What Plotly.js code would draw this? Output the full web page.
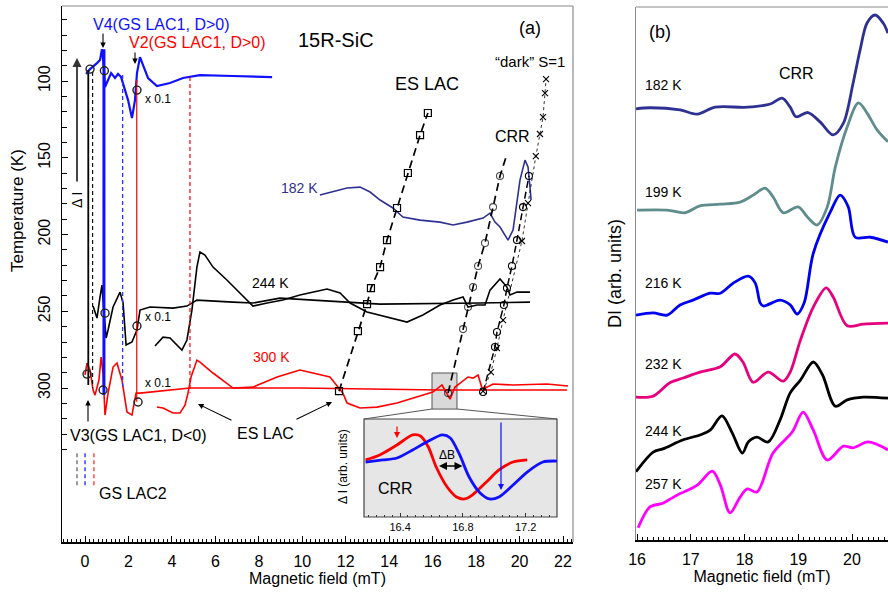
<!DOCTYPE html>
<html>
<head>
<meta charset="utf-8">
<script src="https://cdn.plot.ly/plotly-3.0.1.min.js"></script>
<style>
  html, body { margin: 0; padding: 0; background: #fff; }
  #chart { width: 888px; height: 592px; }
</style>
</head>
<body>
<div id="chart"></div>
<script>
// ---------- Panel (a): spectra plotted at their temperature offset ----------
// 100 K spectrum (blue, scaled x0.1)
const blue100Field = [0.05,0.23,0.55,0.69,0.78,0.87,0.92,1.01,1.20,1.38,1.52,1.66,1.79,1.98,2.16,2.30,2.39,2.53,2.67,2.90,3.31,3.91,4.51,5.29,6.81,8.61];
const blue100Sig   = [95.4,92.2,88.3,86.3,79.2,90.9,103.9,101.3,94.8,98.0,95.4,97.4,103.9,112.4,124.1,112.4,94.8,84.4,89.6,98.0,103.3,101.3,98.0,96.1,96.7,97.4];

// 182 K spectrum (navy)
const navy182Field = [10.81,11.41,12.06,12.66,13.12,13.58,14.17,14.63,15.42,16.34,16.94,17.58,18.32,18.64,18.87,19.10,19.47,19.70,19.88,20.02,20.25,20.39,20.48,20.53];
const navy182Sig   = [174.3,172.3,169.7,169.1,172.3,177.5,182.7,188.6,190.6,191.9,193.8,191.9,189.3,186.0,191.9,195.1,203.6,197.1,177.5,164.5,151.5,156.0,169.1,177.5];

// 244 K spectrum, low-field part scaled x0.1 (black)
const k244LowField = [0.37,0.55,0.69,0.78,0.83,0.97,1.06,1.29,1.61,1.75,1.89,2.16,2.39,2.53,2.99,4.05,4.69,5.15,6.81,7.73,8.97,13.58,18.18,20.48];
const k244LowSig   = [246.6,254.4,240.7,232.9,242.7,267.4,262.2,247.2,237.5,244.6,272.0,270.0,262.2,249.2,247.2,247.9,246.6,242.7,244.0,244.6,241.4,245.3,244.6,244.0];
// 244 K spectrum, full scale (black)
const k244Field = [3.22,3.59,3.91,4.46,4.69,4.92,5.15,5.29,5.52,5.89,6.53,7.13,7.73,8.38,9.11,9.89,11.14,11.74,12.20,12.98,13.90,14.82,15.55,16.34,16.94,17.40,17.63,18.04,18.41,18.64,19.10,19.42,19.56,19.88,20.48];
const k244Sig   = [272.6,266.8,267.4,275.3,268.7,249.2,221.2,211.4,213.4,221.2,229.6,238.1,246.6,244.6,242.7,239.4,235.5,238.1,244.6,250.5,253.8,257.0,252.4,245.9,242.7,240.7,247.2,245.9,245.9,236.2,229.0,234.2,239.4,237.5,237.5];

// 300 K spectrum, low-field part scaled x0.1 (red)
const r300LowField = [0.00,0.09,0.23,0.37,0.46,0.64,0.74,0.83,0.92,1.06,1.29,1.47,1.70,1.93,2.16,2.35,2.53,4.05,4.83,5.61,9.89,16.34,22.18];
const r300LowSig   = [291.5,283.7,288.3,301.3,304.6,294.8,279.8,290.2,317.6,303.3,286.3,283.7,294.8,315.6,317.6,303.3,303.3,301.3,300.0,300.0,300.0,301.3,301.3];
// 300 K spectrum, full scale (red)
const r300Field = [3.31,3.59,4.05,4.37,4.60,4.74,4.88,5.15,5.29,5.89,6.81,7.73,8.84,9.89,10.49,11.27,11.87,12.06,12.66,13.44,14.36,15.09,16.01,16.43,16.66,16.80,17.03,17.26,17.40,17.63,17.86,18.09,18.27,18.50,18.78,19.70,21.26,22.23];
const r300Sig   = [312.4,313.0,316.3,316.3,311.1,303.3,292.8,281.8,283.1,290.2,300.0,299.4,292.8,288.3,290.2,292.8,303.3,309.8,313.0,312.4,309.8,306.5,302.6,298.0,303.3,307.2,299.4,296.8,294.8,292.8,293.5,291.5,300.0,299.4,297.4,298.0,297.4,298.7];

// Level anti-crossing positions (vertical markers): field, upper and lower temperature ends
const lacField  = [0.15, 0.35, 0.87, 1.73, 2.38, 4.83];
const lacTop    = [92.8, 94.1, 79.2, 96.1, 99.3, 97.4];
const lacBottom = [298.0, 300.0, 304.6, 301.3, 309.0, 303.0];

// Open circles on the GS LAC lines
const gsCircField = [0.23, 0.89, 2.39, 0.92, 2.39, 0.09, 0.83, 2.44];
const gsCircTemp  = [92.2, 93.3, 105.9, 251.2, 259.6, 290.9, 301.3, 309.1];

// GS LAC2 positions
const gsLac2Field = [-0.37, 0.0, 0.41];
const gsLac2Range = [342.4, 365.2];

// ES LAC temperature dependence (squares)
const esLacField = [11.69, 12.56, 12.98, 13.16, 13.58, 13.90, 14.36, 14.86, 15.42, 15.78];
const esLacTemp  = [302.0, 262.9, 245.3, 234.9, 221.2, 203.6, 182.7, 159.9, 135.2, 120.8];

// CRR temperature dependence (circles, two branches)
const crrAField = [16.71, 17.40, 17.63, 17.86, 18.09, 18.41, 18.78, 19.10, 19.42];
const crrATemp  = [303.3, 261.6, 247.2, 234.2, 220.5, 205.5, 182.1, 161.9, 147.6];
const crrAMark  = [true, true, true, true, true, true, true, true, false];
const crrBField = [18.32, 18.87, 18.96, 19.28, 19.42, 19.65, 19.88, 20.16, 20.43];
const crrBTemp  = [302.6, 273.3, 263.5, 245.9, 234.9, 220.5, 203.6, 182.1, 161.9];

// "dark" S=1 centre temperature dependence (crosses)
const darkField = [18.32, 18.68, 18.96, 19.24, 20.11, 20.39, 20.75, 20.94, 21.08, 21.17, 21.22];
const darkTemp  = [302.0, 289.6, 274.0, 255.7, 204.2, 179.5, 148.9, 134.5, 123.5, 107.8, 98.7];

// Zoomed region shown in the inset
const zoomBoxField = [15.97, 17.12];
const zoomBoxTemp  = [290.2, 313.7];

// ---------- Inset: CRR line shift ----------
const insRedField  = [16.18,16.27,16.38,16.48,16.53,16.58,16.63,16.70,16.76,16.81,16.86,16.95,17.03,17.12,17.21];
const insRedSig    = [58.2,63.3,73.5,83.7,82.7,71.4,51.0,30.6,20.4,18.4,22.4,35.7,48.0,56.1,58.2];
const insBlueField = [16.18,16.29,16.38,16.48,16.57,16.67,16.72,16.78,16.84,16.91,16.97,17.03,17.12,17.21,17.31,17.40];
const insBlueSig   = [56.1,58.2,60.2,68.4,76.5,83.7,80.6,63.3,40.8,24.5,18.4,20.4,32.7,45.9,56.1,57.1];
const insTicks     = [16.4, 16.8, 17.2];

// ---------- Panel (b): CRR spectra at several temperatures ----------
const bLabels = ['182 K', '199 K', '216 K', '232 K', '244 K', '257 K'];
const bField = [
  [15.98,16.24,16.80,17.12,17.45,18.05,18.48,18.70,18.85,18.96,19.18,19.41,19.65,19.84,20.02,20.15,20.28,20.43,20.58,20.67],
  [16.00,16.56,16.89,17.17,17.55,17.92,18.16,18.38,18.53,18.72,19.00,19.17,19.35,19.54,19.69,19.91,20.12,20.28,20.47,20.67],
  [15.98,16.30,16.56,16.80,17.04,17.36,17.55,17.79,18.07,18.20,18.29,18.35,18.66,18.85,18.98,19.11,19.28,19.59,19.78,19.93,20.06,20.34,20.67],
  [15.98,16.30,16.61,16.86,17.17,17.55,17.82,17.97,18.16,18.44,18.72,18.85,19.04,19.28,19.52,19.65,19.91,20.21,20.67],
  [15.98,16.30,16.48,16.86,17.17,17.36,17.58,17.77,17.96,18.07,18.23,18.44,18.66,18.85,19.04,19.28,19.45,19.69,19.91,20.21,20.67],
  [16.02,16.24,16.48,16.74,17.12,17.40,17.55,17.73,17.92,18.05,18.23,18.53,18.89,19.09,19.28,19.54,19.84,20.02,20.30,20.67]
];
const bSignal = [
  [80.9,81.1,80.7,79.9,81.2,81.2,81.8,82.9,81.2,79.4,80.2,78.4,76.0,78.2,85.7,91.9,97.0,98.5,97.0,95.1],
  [61.9,61.9,61.4,62.7,63.0,63.4,64.7,66.0,64.4,61.4,62.5,60.6,59.1,62.5,70.0,77.5,82.0,80.1,76.9,74.7],
  [42.2,42.6,42.2,44.1,45.0,46.3,46.3,48.2,49.5,48.2,44.5,43.9,45.0,44.1,42.4,44.5,53.8,61.4,64.7,62.5,56.8,56.8,55.9],
  [26.8,27.0,29.5,30.4,31.5,32.5,34.9,33.4,29.6,31.5,29.8,31.5,37.5,43.7,47.3,45.6,40.2,40.5,40.7],
  [12.8,16.5,17.1,18.8,19.7,20.6,23.3,20.1,16.3,18.4,19.3,18.4,22.5,27.6,30.0,33.4,31.0,25.1,26.3,26.8,26.6],
  [2.3,6.2,6.9,8.4,10.3,12.9,10.3,5.1,8.1,9.6,9.0,16.3,20.3,24.0,20.6,15.0,17.6,17.3,18.4,16.9]
];
const bColors = ['#2e3192', '#5f8c8c', '#0000f0', '#e6007e', '#000000', '#ff00ff'];

// ---------- page geometry helpers (pixels -> paper) ----------
const W = 888, H = 592;
const px = v => v / W;
const py = v => 1 - v / H;

const traces = [];

// spectra in panel (a)
function spectrum(x, y, color, width) {
  traces.push({ x, y, xaxis: 'x', yaxis: 'y', mode: 'lines', hoverinfo: 'skip',
    line: { color, width: width || 1.8 } });
}
spectrum(blue100Field, blue100Sig, '#1010ff', 2.2);
spectrum(navy182Field, navy182Sig, '#2e3192', 1.6);
spectrum(k244LowField, k244LowSig, '#000', 1.6);
spectrum(k244Field, k244Sig, '#000', 1.6);
spectrum(r300LowField, r300LowSig, '#ff0000', 1.6);
spectrum(r300Field, r300Sig, '#ff0000', 1.6);

// LAC vertical markers
const lacStyle = [
  { color: '#000', width: 1.8, dash: 'solid' },
  { color: '#000', width: 1.1, dash: '4px,3px' },
  { color: '#1010ff', width: 3, dash: 'solid' },
  { color: '#3030ff', width: 1.3, dash: '4px,3px' },
  { color: '#ff0000', width: 1.2, dash: 'solid' },
  { color: '#ff0000', width: 1.2, dash: '4px,3px' }
];
lacField.forEach((f, i) => {
  traces.push({ x: [f, f], y: [lacTop[i], lacBottom[i]], xaxis: 'x', yaxis: 'y',
    mode: 'lines', hoverinfo: 'skip', line: lacStyle[i] });
});

// GS LAC2 short dashed markers
const gsLac2Colors = ['#666666', '#2020ff', '#ff3030'];
gsLac2Field.forEach((f, i) => {
  traces.push({ x: [f, f], y: gsLac2Range, xaxis: 'x', yaxis: 'y', mode: 'lines',
    hoverinfo: 'skip', line: { color: gsLac2Colors[i], width: 1.3, dash: '4px,3px' } });
});

// open circles on GS LAC lines
traces.push({ x: gsCircField, y: gsCircTemp, xaxis: 'x', yaxis: 'y', mode: 'markers',
  hoverinfo: 'skip', marker: { symbol: 'circle-open', size: 8, color: '#222', line: { width: 1.4 } } });

// ES LAC / CRR / dark S=1 temperature dependences
traces.push({ x: esLacField, y: esLacTemp, xaxis: 'x', yaxis: 'y', mode: 'lines+markers',
  hoverinfo: 'skip', line: { color: '#000', width: 1.7, dash: '8px,5px' },
  marker: { symbol: 'square-open', size: 7, color: '#000', line: { width: 1.2 } } });
traces.push({ x: crrAField, y: crrATemp, xaxis: 'x', yaxis: 'y', mode: 'lines+markers',
  hoverinfo: 'skip', line: { color: '#000', width: 1.7, dash: '8px,5px' },
  marker: { symbol: 'circle-open', size: crrAMark.map(m => m ? 7 : 0), color: '#000', line: { width: 1.1 } } });
traces.push({ x: crrBField, y: crrBTemp, xaxis: 'x', yaxis: 'y', mode: 'lines+markers',
  hoverinfo: 'skip', line: { color: '#000', width: 1.5, dash: '7px,4px' },
  marker: { symbol: 'circle-open', size: 7, color: '#000', line: { width: 1.1 } } });
traces.push({ x: darkField, y: darkTemp, xaxis: 'x', yaxis: 'y', mode: 'lines+markers',
  hoverinfo: 'skip', line: { color: '#000', width: 0.8, dash: 'dot' },
  marker: { symbol: 'x-thin-open', size: 6, color: '#000', line: { width: 1.1 } } });

// inset curves
traces.push({ x: insRedField, y: insRedSig, xaxis: 'x3', yaxis: 'y3', mode: 'lines',
  line: { color: '#ff0000', width: 2.8, shape: 'spline', smoothing: 0.8 }, hoverinfo: 'skip' });
traces.push({ x: insBlueField, y: insBlueSig, xaxis: 'x3', yaxis: 'y3', mode: 'lines',
  line: { color: '#1010ff', width: 2.8, shape: 'spline', smoothing: 0.8 }, hoverinfo: 'skip' });

// panel (b) spectra
bField.forEach((xs, i) => {
  traces.push({ x: xs, y: bSignal[i], xaxis: 'x2', yaxis: 'y2', mode: 'lines', hoverinfo: 'skip',
    line: { color: bColors[i], width: 2.8, shape: 'spline', smoothing: 0.9 } });
});

// ---------- text labels ----------
const FONT = 'Arial, "Liberation Sans", Helvetica, sans-serif';
const ann = [];
function label(text, x, y, size, color, extra) {
  ann.push(Object.assign({ text, x: px(x), y: py(y), xref: 'paper', yref: 'paper',
    showarrow: false, xanchor: 'center', yanchor: 'middle',
    font: { family: FONT, size, color: color || '#000' } }, extra || {}));
}
function arrow(hx, hy, tx, ty, color, width, extra) {
  ann.push(Object.assign({ text: '', x: px(hx), y: py(hy), xref: 'paper', yref: 'paper',
    ax: tx - hx, ay: ty - hy, showarrow: true, arrowhead: 2, arrowsize: 1,
    arrowwidth: width || 1.2, arrowcolor: color || '#000' }, extra || {}));
}

// panel (a)
label('V4(GS LAC1, D>0)', 161, 25, 16, '#1010ff');
label('V2(GS LAC1, D>0)', 197, 43, 16, '#ff0000');
label('15R-SiC', 336, 40, 20);
label('(a)', 530, 28, 18);
label('\u201cdark\u201d S=1', 530, 61, 15);
label('ES LAC', 427, 84, 18);
label('CRR', 512, 136, 16);
label('x 0.1', 158, 99, 12);
label('x 0.1', 158, 317, 12);
label('x 0.1', 158, 383, 12);
label('182 K', 299, 188, 14, '#2e3192');
label('244 K', 270, 283, 14);
label('300 K', 271, 357, 14, '#ff0000');
label('\u0394 I', 77, 200, 14, '#000', { textangle: -90 });
label('V3(GS LAC1, D<0)', 138, 435, 16);
label('GS LAC2', 133, 493, 16);
label('ES LAC', 265, 433, 16);
label('Temperature (K)', 18, 211, 17, '#000', { textangle: -90 });

arrow(103, 48, 103, 32, '#000', 1.1);
arrow(135, 64, 135, 51, '#000', 1.1);
arrow(88, 400, 88, 423, '#000', 1.1);
arrow(77, 58, 77, 183, '#333', 1.8);
arrow(198, 404, 233, 421, '#000', 1.1);
arrow(332, 402, 295, 420, '#000', 1.1);

// inset
label('\u0394B', 447, 455, 12);
label('CRR', 395, 488, 16);
label('\u0394 I (arb. units)', 343, 467, 12, '#000', { textangle: -90 });
arrow(397, 438, 397, 425, '#ff0000', 1.2);
arrow(501, 490, 501, 421, '#1010ff', 1.2);
arrow(439, 466, 464, 466, '#000', 1.6, { arrowside: 'end+start' });

// panel (b)
label('(b)', 660, 32, 18);
label('CRR', 796, 73, 16);
const bLabelY = [85, 192, 283, 364, 431, 484];
bLabels.forEach((t, i) => label(t, 663, bLabelY[i], 14));

// ---------- frames, inset box ----------
const shapes = [
  // panel (a) top and right frame
  { type: 'line', xref: 'paper', yref: 'paper', x0: px(62), x1: px(573), y0: py(6), y1: py(6), line: { color: '#8a8a8a', width: 1.2 } },
  { type: 'line', xref: 'paper', yref: 'paper', x0: px(573), x1: px(573), y0: py(6), y1: py(542), line: { color: '#8a8a8a', width: 1.2 } },
  // panel (b) top frame
  { type: 'line', xref: 'paper', yref: 'paper', x0: px(636), x1: 1, y0: py(7), y1: py(7), line: { color: '#8a8a8a', width: 1.2 } },
  // zoomed region marker
  { type: 'rect', xref: 'x', yref: 'y', x0: zoomBoxField[0], x1: zoomBoxField[1], y0: zoomBoxTemp[0], y1: zoomBoxTemp[1],
    fillcolor: '#d9d9d9', line: { color: '#555', width: 1 }, layer: 'below' },
  { type: 'line', xref: 'paper', yref: 'paper', x0: px(432), y0: py(409), x1: px(364), y1: py(419), line: { color: '#555', width: 1 } },
  { type: 'line', xref: 'paper', yref: 'paper', x0: px(457), y0: py(409), x1: px(557), y1: py(419), line: { color: '#555', width: 1 } },
  // inset background
  { type: 'rect', xref: 'paper', yref: 'paper', x0: px(364), x1: px(557), y0: py(517), y1: py(419),
    fillcolor: '#e6e6e6', line: { color: '#444', width: 1.2 }, layer: 'below' }
];

const tickFont = { family: FONT, size: 16, color: '#000' };
const minorT = [];
for (let t = 60; t <= 340; t += 10) if (t % 50 !== 0 || t < 100 || t > 300) minorT.push(t);

const layout = {
  width: W, height: H,
  margin: { l: 0, r: 0, t: 0, b: 0 },
  paper_bgcolor: '#fff', plot_bgcolor: 'rgba(0,0,0,0)',
  showlegend: false,
  font: { family: FONT, color: '#000' },
  xaxis: {
    domain: [px(62), px(573)], range: [-1.06, 22.46], anchor: 'y',
    showline: true, linecolor: '#000', linewidth: 1.5, mirror: false,
    ticks: 'inside', tick0: 0, dtick: 2, ticklen: 6, tickwidth: 1, tickcolor: '#000',
    minor: { tickmode: 'linear', tick0: 0, dtick: 0.2, ticks: 'inside', ticklen: 3, tickcolor: '#000', tickwidth: 1 },
    showgrid: false, zeroline: false, tickfont: tickFont, ticklabelstandoff: 4,
    title: { text: 'Magnetic field (mT)', font: { family: FONT, size: 16 }, standoff: 4 }
  },
  yaxis: {
    domain: [py(542), py(6)], range: [400.3, 51.1], anchor: 'x',
    showline: true, linecolor: '#000', linewidth: 1.5,
    ticks: 'inside', tickmode: 'array', tickvals: [100, 150, 200, 250, 300], ticklen: 6, tickcolor: '#000',
    minor: { tickmode: 'array', tickvals: minorT, ticks: 'inside', ticklen: 5, tickcolor: '#000' },
    tickangle: -90, showgrid: false, zeroline: false, tickfont: tickFont, ticklabelstandoff: 4
  },
  xaxis2: {
    domain: [px(636), 1], range: [15.98, 20.67], anchor: 'y2',
    showline: true, linecolor: '#000', linewidth: 1.5,
    ticks: 'inside', tick0: 16, dtick: 1, ticklen: 6, tickcolor: '#000',
    minor: { tickmode: 'linear', tick0: 16, dtick: 0.1, ticks: 'inside', ticklen: 3, tickcolor: '#000' },
    showgrid: false, zeroline: false, tickfont: tickFont, ticklabelstandoff: 4,
    title: { text: 'Magnetic field (mT)', font: { family: FONT, size: 16 }, standoff: 4 }
  },
  yaxis2: {
    domain: [py(540), py(7)], range: [0, 100], anchor: 'x2',
    showline: true, linecolor: '#8a8a8a', linewidth: 1.5,
    ticks: '', showticklabels: false, showgrid: false, zeroline: false,
    title: { text: 'DI (arb. units)', font: { family: FONT, size: 18 }, standoff: 8 }
  },
  xaxis3: {
    domain: [px(364), px(557)], range: [16.17, 17.40], anchor: 'y3',
    showline: false, ticks: 'inside', tickmode: 'array', tickvals: insTicks, ticktext: insTicks.map(v => v.toFixed(1)),
    ticklen: 4, tickcolor: '#333',
    minor: { tickmode: 'linear', tick0: 16.2, dtick: 0.05, ticks: 'inside', ticklen: 2, tickcolor: '#333' },
    showgrid: false, zeroline: false, tickfont: { family: FONT, size: 11, color: '#000' }, ticklabelstandoff: 2
  },
  yaxis3: {
    domain: [py(517), py(419)], range: [0, 100], anchor: 'x3',
    showline: false, ticks: '', showticklabels: false, showgrid: false, zeroline: false
  },
  annotations: ann,
  shapes: shapes
};

Plotly.newPlot('chart', traces, layout, { displayModeBar: false, staticPlot: true });
</script>
</body>
</html>
